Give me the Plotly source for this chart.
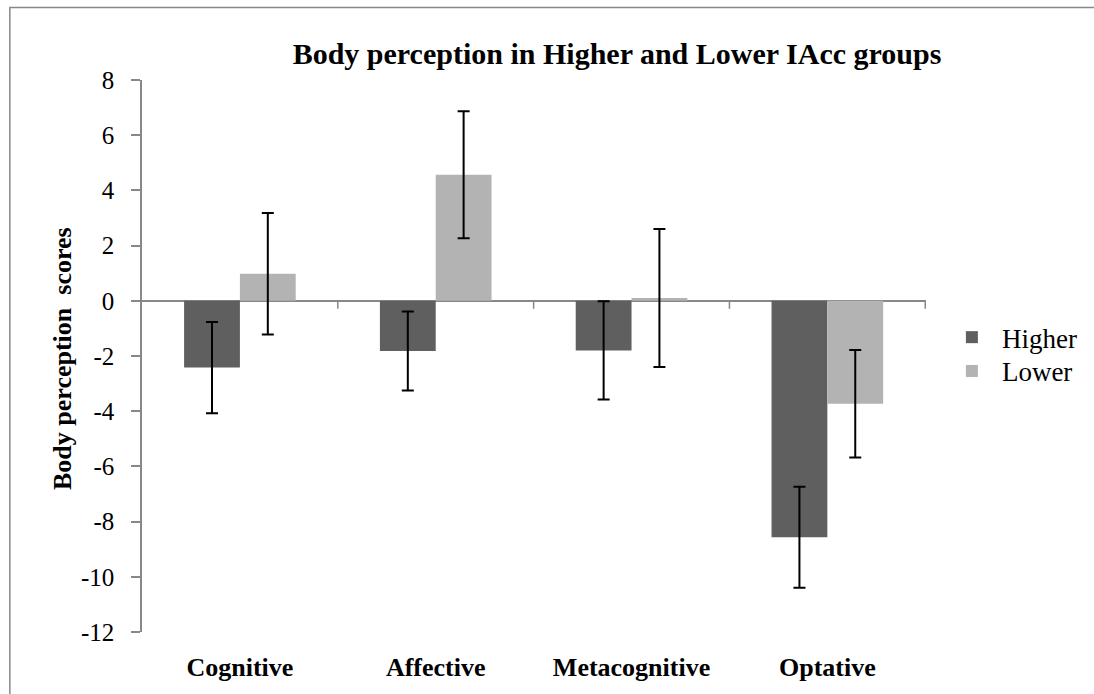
import plotly.graph_objects as go

categories = ["Cognitive", "Affective", "Metacognitive", "Optative"]
higher_values = [-2.42, -1.82, -1.80, -8.57]
higher_errors = [1.65, 1.43, 1.78, 1.83]
lower_values = [0.98, 4.57, 0.10, -3.73]
lower_errors = [2.2, 2.3, 2.5, 1.95]
y_ticks = list(range(-12, 9, 2))
y_tick_text = [str(v) for v in y_ticks]

FONT = "Liberation Serif"
AXIS_GRAY = "#888888"

fig = go.Figure()
fig.add_trace(go.Bar(
    name="Higher", x=categories, y=higher_values, legend="legend", showlegend=True,
    marker=dict(color="#5f5f5f", line=dict(width=0)),
    error_y=dict(type="data", array=higher_errors, color="black", thickness=2, width=6),
))
fig.add_trace(go.Bar(
    name="Lower", x=categories, y=lower_values, legend="legend2", showlegend=True,
    marker=dict(color="#b3b3b3", line=dict(width=0)),
    error_y=dict(type="data", array=lower_errors, color="black", thickness=2, width=6),
))

W, H = 1094, 694
ml, mr, mt, mb = 142, 163, 80, 59
pw, ph = W - ml - mr, H - mt - mb


def px_x(px):
    return (px - ml) / pw


def px_y(py):
    return (H - mb - py) / ph


shapes = []
# category-boundary tick marks on the zero line
for i in range(len(categories)):
    shapes.append(dict(type="line", xref="x", x0=i + 0.5, x1=i + 0.5,
                       yref="y", ysizemode="pixel", yanchor=0, y0=0, y1=-8,
                       line=dict(color=AXIS_GRAY, width=1.5)))
# outer chart border (extends past the picture on right and bottom)
shapes.append(dict(type="rect", xref="paper", yref="paper",
                   x0=px_x(9), x1=px_x(W + 20), y0=px_y(H + 20), y1=px_y(7),
                   line=dict(color=AXIS_GRAY, width=1.5), fillcolor="rgba(0,0,0,0)", layer="below"))

legend_common = dict(xanchor="left", yanchor="middle", bgcolor="rgba(0,0,0,0)",
                     font=dict(size=27, family=FONT, color="black"), itemwidth=50)

fig.update_layout(
    width=W, height=H,
    showlegend=True,
    margin=dict(l=ml, r=mr, t=mt, b=mb),
    paper_bgcolor="white", plot_bgcolor="white",
    barmode="group", bargap=0.43, bargroupgap=0,
    font=dict(family=FONT, color="black"),
    title=dict(text="<b>Body perception in Higher and Lower IAcc groups</b>",
               font=dict(size=30, family=FONT, color="black"),
               x=617 / W, xanchor="center", xref="container",
               y=1 - 53 / H, yanchor="middle", yref="container"),
    xaxis=dict(showline=False, ticks="", showgrid=False, zeroline=False,
               tickfont=dict(size=26, family=FONT, color="black"),
               tickprefix="<b>", ticksuffix="</b>", ticklabelstandoff=17),
    yaxis=dict(range=[-12, 8], tickvals=y_ticks, ticktext=y_tick_text, showgrid=False,
               showline=True, linecolor=AXIS_GRAY, linewidth=1.5,
               ticks="outside", ticklen=9, tickcolor=AXIS_GRAY, tickwidth=1.5,
               zeroline=True, zerolinecolor=AXIS_GRAY, zerolinewidth=1.5,
               tickfont=dict(size=25, family=FONT, color="black"),
               ticklabelstandoff=12),
    legend=dict(x=px_x(947), y=px_y(339), visible=True, **legend_common),
    legend2=dict(x=px_x(947), y=px_y(373), visible=True, **legend_common),
    shapes=shapes,
    annotations=[dict(text="<b>Body perception  scores</b>", textangle=-90,
                      xref="paper", yref="paper", x=px_x(62), y=px_y(360),
                      xanchor="center", yanchor="middle", showarrow=False,
                      font=dict(size=26, family=FONT, color="black"))],
)

fig.write_html("out.html", config={"displayModeBar": False},
               post_script="document.body.style.margin='0';")
